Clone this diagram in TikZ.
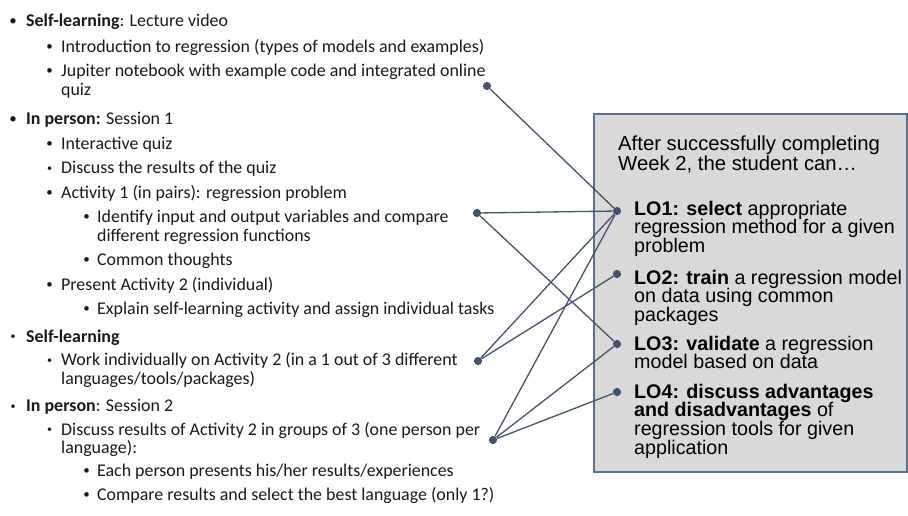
\documentclass[tikz,border=0pt]{standalone}
\usepackage{fontspec}
\setmainfont{Carlito}
\newfontfamily\arialfont{Liberation Sans}
\usetikzlibrary{positioning}
\definecolor{slategray}{HTML}{44546A}
\definecolor{boxgray}{HTML}{D9D9D9}
\definecolor{boxline}{HTML}{5B6F8E}
% bullet: #1 = gap to text, #2 = bullet size
\newcommand{\blt}[2]{\llap{\makebox[0pt][c]{\raisebox{\dimexpr 5.6pt-#2pt*31/100\relax}{\fontsize{#2}{#2}\selectfont\textbullet}}\hspace{#1}}}

\begin{document}
\begin{tikzpicture} [%
    x = 1pt,
    y = -1pt,
    every node/.style = {inner sep = 0pt},
    lvl/.style = {%
      anchor = base west,
      font = \fontsize{17.9}{21}\selectfont,
      text = black!90 },
    lotext/.style = {%
      anchor = north west,
      align = left,
      font = \arialfont\fontsize{19.7}{18.8}\selectfont },
    dot/.style = {circle, fill = slategray, minimum size = 8.2pt},
    every edge/.style = {draw = slategray, line width = 1.3pt}
  ]

  \useasboundingbox (0,0) rectangle (908,515);

  % learning outcomes box
  \node[draw = boxline, line width = 2pt, fill = boxgray, anchor = north west,
    minimum width = 313pt, minimum height = 358pt] (lobox) at (593,113) {};
  \node[lotext, font = \arialfont\fontsize{20.3}{20}\selectfont] (head) at (618,135.5)
    {After successfully completing\\Week 2, the student can…};
  \node[lotext] (lo1) at (634,200.7) {\textbf{LO1: select} appropriate\\regression method for a given\\problem};
  \node[lotext] (lo2) at (634,269.7) {\textbf{LO2: train} a regression model\\on data using common\\packages};
  \node[lotext] (lo3) at (634,335.7) {\textbf{LO3: validate} a regression\\model based on data};
  \node[lotext] (lo4) at (634,383.7) {\textbf{LO4: discuss advantages}\\\textbf{and disadvantages} of\\regression tools for given\\application};

  % week plan
  \node[lvl] (sl1) at (26,26) {\blt{13pt}{15}\textbf{Self-learning}: Lecture video};
  \node[lvl] (intro) at (61,52) {\blt{11.5pt}{13}Introduction to regression (types of models and examples)};
  \node[lvl] (jup) at (61,76) {\blt{11.5pt}{13}Jupiter notebook with example code and integrated online};
  \node[lvl] (jupb) at (61,95) {quiz};
  \node[lvl] (ip1) at (26,124) {\blt{13pt}{15}\textbf{In person:} Session 1};
  \node[lvl] (quiz) at (61,149.5) {\blt{11.5pt}{13}Interactive quiz};
  \node[lvl] (disc) at (61,173.5) {\blt{11.5pt}{10}Discuss the results of the quiz};
  \node[lvl] (act1) at (61,198.5) {\blt{11.5pt}{13}Activity 1 (in pairs): regression problem};
  \node[lvl] (ident) at (97,222.5) {\blt{10.7pt}{13}Identify input and output variables and compare};
  \node[lvl] (identb) at (97,241.5) {different regression functions};
  \node[lvl] (common) at (97,265.5) {\blt{10.7pt}{13}Common thoughts};
  \node[lvl] (pres) at (61,290.5) {\blt{11.5pt}{13}Present Activity 2 (individual)};
  \node[lvl] (expl) at (97,314.5) {\blt{10.7pt}{13}Explain self-learning activity and assign individual tasks};
  \node[lvl] (sl2) at (26,342.1) {\blt{13pt}{10}\textbf{Self-learning}};
  \node[lvl] (work) at (61,365.9) {\blt{11.5pt}{10}Work individually on Activity 2 (in a 1 out of 3 different};
  \node[lvl] (workb) at (61,384) {languages/tools/packages)};
  \node[lvl] (ip2) at (26,411.6) {\blt{13pt}{10}\textbf{In person}: Session 2};
  \node[lvl] (disc2) at (61,435.4) {\blt{11.5pt}{10}Discuss results of Activity 2 in groups of 3 (one person per};
  \node[lvl] (disc2b) at (61,453.5) {language):};
  \node[lvl] (each) at (97,476.3) {\blt{10.7pt}{13}Each person presents his/her results/experiences};
  \node[lvl] (comp) at (97,500) {\blt{10.7pt}{13}Compare results and select the best language (only 1?)};

  % connector ends
  \node[dot] (jupdot) at (487,86) {};
  \node[dot] (actdot) at (477,213) {};
  \node[dot] (workdot) at (478,361) {};
  \node[dot] (discdot) at (493,440) {};
  \node[dot] (lo1dot) at (617,211) {};
  \node[dot] (lo2dot) at (617,274) {};
  \node[dot] (lo3dot) at (617,344) {};
  \node[dot] (lo4dot) at (617,392) {};

  \path
  (jupdot) edge (lo1dot)
  (actdot) edge (lo1dot)
  (actdot) edge (lo3dot)
  (workdot) edge (lo1dot)
  (workdot) edge (lo2dot)
  (discdot) edge (lo1dot)
  (discdot) edge (lo3dot)
  (discdot) edge (lo4dot);

\end{tikzpicture}
\end{document}
